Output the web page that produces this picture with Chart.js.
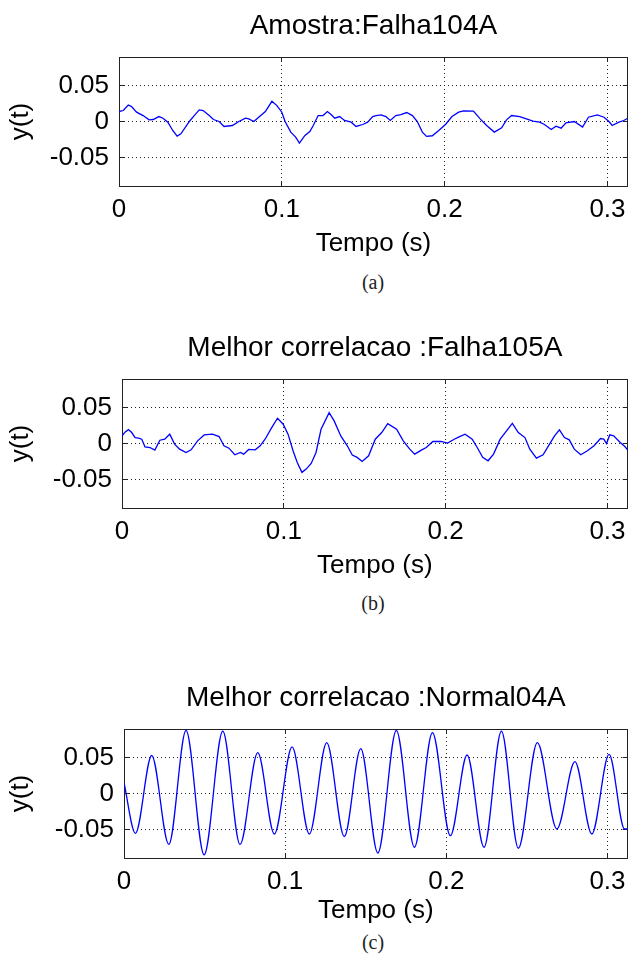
<!DOCTYPE html>
<html>
<head>
<meta charset="utf-8">
<title>Amostra e melhor correlacao</title>
<script src="https://cdn.jsdelivr.net/npm/chart.js@4.4.1/dist/chart.umd.min.js"></script>
<style>
    html, body { margin: 0; padding: 0; background: #fff; }
    body { width: 639px; height: 956px; position: relative; overflow: hidden; }
    .panel { position: absolute; left: 0; width: 639px; height: 259px; }
    .caption {
        position: absolute; left: 273px; width: 200px; text-align: center;
        font-family: "Liberation Serif", "DejaVu Serif", serif;
        font-size: 20px; line-height: 20px; color: #222;
    }
</style>
</head>
<body>
<div class="panel" style="top:0px"><canvas id="chartA"></canvas></div>
<div class="caption" style="top:272px">(a)</div>
<div class="panel" style="top:322px"><canvas id="chartB"></canvas></div>
<div class="caption" style="top:593px">(b)</div>
<div class="panel" style="top:672px"><canvas id="chartC"></canvas></div>
<div class="caption" style="top:932px">(c)</div>

<script>
// --- data (time in s, y(t)) ---
const titles = ['Amostra:Falha104A', 'Melhor correlacao :Falha105A', 'Melhor correlacao :Normal04A'];
const xLabel = 'Tempo (s)';
const yLabel = 'y(t)';
const xTickValues = [0, 0.1, 0.2, 0.3];
const xTickLabels = ['0', '0.1', '0.2', '0.3'];
const yTickValues = [-0.05, 0, 0.05];
const yTickLabels = ['-0.05', '0', '0.05'];
const xMax = 0.3125;
const yMin = -0.09;
const yMax = 0.09;

// (a) Amostra:Falha104A
const timeA = [0, 0.0026, 0.0057, 0.0077, 0.0108, 0.0148, 0.0185, 0.021, 0.0245, 0.027,
    0.030, 0.033, 0.0357, 0.038, 0.0432, 0.0462, 0.0493, 0.0517, 0.0554, 0.058,
    0.0615, 0.0645, 0.0696, 0.0736, 0.0777, 0.0797, 0.0828, 0.0858, 0.0899, 0.0939,
    0.097, 0.1, 0.102, 0.1055, 0.1085, 0.1108, 0.1142, 0.1172, 0.1193, 0.1223,
    0.1253, 0.128, 0.1304, 0.1325, 0.1355, 0.1385, 0.1426, 0.1456, 0.1497, 0.1527,
    0.1558, 0.1579, 0.161, 0.1639, 0.1666, 0.170, 0.1731, 0.1767, 0.1802, 0.1832,
    0.1863, 0.1889, 0.1924, 0.1964, 0.2005, 0.2045, 0.2086, 0.2116, 0.2177, 0.2218,
    0.2258, 0.2305, 0.235, 0.238, 0.2411, 0.2461, 0.2502, 0.2542, 0.2583, 0.2613,
    0.2654, 0.2684, 0.2715, 0.2745, 0.2796, 0.2847, 0.2883, 0.2938, 0.2979, 0.3009,
    0.3029, 0.307, 0.31, 0.3125];
const valuesA = [0.0139, 0.0153, 0.0231, 0.0208, 0.0130, 0.0083, 0.0023, 0.0028, 0.0069, 0.0046,
    -0.0009, -0.0125, -0.0204, -0.0171, 0, 0.0083, 0.0162, 0.0153, 0.0083, 0.0028,
    0, -0.0069, -0.0056, 0, 0.0046, 0.0037, 0, 0.006, 0.0139, 0.0282,
    0.0222, 0.013, 0, -0.0148, -0.0218, -0.0301, -0.0194, -0.0139, -0.0056, 0.0083,
    0.0083, 0.0139, 0.0093, 0.0046, 0.0069, 0.0014, -0.0009, -0.0069, -0.0042, -0.0009,
    0.0069, 0.0083, 0.0093, 0.0069, 0.0014, 0.0083, 0.0097, 0.0125, 0.0083, 0,
    -0.0148, -0.0208, -0.0199, -0.0125, -0.0042, 0.0069, 0.013, 0.0148, 0.0144, 0.0037,
    -0.0056, -0.0148, -0.0088, 0.0023, 0.0083, 0.0069, 0.0037, 0.0005, -0.0009, -0.0042,
    -0.0111, -0.0065, -0.0093, -0.0019, 0, -0.0079, 0.006, 0.0093, 0.006, 0,
    -0.0056, -0.0009, 0.0014, 0.0046];

// (b) Melhor correlacao :Falha105A
const timeB = [0, 0.002, 0.004, 0.006, 0.0081, 0.0102, 0.0122, 0.0142, 0.0173, 0.0203,
    0.0234, 0.0264, 0.0295, 0.0325, 0.0356, 0.0396, 0.0427, 0.0467, 0.0508, 0.0559,
    0.06, 0.063, 0.0661, 0.0697, 0.0732, 0.0752, 0.0783, 0.0823, 0.0854, 0.0884,
    0.0925, 0.0961, 0.0996, 0.1026, 0.1057, 0.1083, 0.1112, 0.1138, 0.1169, 0.1199,
    0.123, 0.128, 0.1311, 0.1352, 0.1392, 0.1423, 0.1453, 0.1484, 0.1524, 0.1565,
    0.1605, 0.1642, 0.1697, 0.1738, 0.1778, 0.1809, 0.185, 0.188, 0.1921, 0.1971,
    0.2012, 0.2053, 0.2083, 0.212, 0.2164, 0.2195, 0.2229, 0.2262, 0.2296, 0.2337,
    0.2368, 0.2412, 0.2449, 0.249, 0.252, 0.2561, 0.2602, 0.2642, 0.2673, 0.2703,
    0.2734, 0.2764, 0.2795, 0.2835, 0.2876, 0.2917, 0.2957, 0.2977, 0.2994, 0.3014,
    0.3038, 0.3079, 0.3109, 0.3125];
const valuesB = [0.0106, 0.0162, 0.0194, 0.0153, 0.0083, 0.0074, 0.006, -0.0046, -0.0056, -0.0093,
    0.0046, 0.006, 0.013, -0.0009, -0.0079, -0.0125, -0.0088, 0.0037, 0.012, 0.013,
    0.0097, -0.0032, -0.0065, -0.0157, -0.0125, -0.0148, -0.0083, -0.0088, -0.0032, 0.006,
    0.0222, 0.0352, 0.0269, 0.013, -0.0102, -0.0264, -0.0403, -0.0357, -0.0278, -0.0125,
    0.0199, 0.0431, 0.0315, 0.0106, -0.0032, -0.0162, -0.0194, -0.025, -0.0171, 0.006,
    0.0153, 0.0278, 0.0199, 0.0037, -0.0079, -0.0148, -0.0093, -0.0056, 0.0028, 0.0028,
    0.0005, 0.006, 0.0093, 0.013, 0.006, -0.0056, -0.0194, -0.0241, -0.0148, 0.006,
    0.0153, 0.0282, 0.0153, 0.0083, -0.0079, -0.0204, -0.0157, -0.0009, 0.0106, 0.019,
    0.0083, 0.0051, -0.0079, -0.0157, -0.0102, -0.0032, 0.0069, 0.006, 0, 0.012,
    0.0106, 0.0014, -0.0046, -0.0093];

// (c) Melhor correlacao :Normal04A (peaks and troughs)
const timeC = [0, 0.0071, 0.0172, 0.0278, 0.0385, 0.0497, 0.0613, 0.072, 0.083, 0.0933,
    0.1043, 0.115, 0.1258, 0.1367, 0.1469, 0.1575, 0.169, 0.1802, 0.1914, 0.2025,
    0.2129, 0.2234, 0.2342, 0.2447, 0.2565, 0.2686, 0.2798, 0.2903, 0.301, 0.3106, 0.3125];
const valuesC = [0.015, -0.0556, 0.053, -0.071, 0.088, -0.0857, 0.087, -0.071, 0.057, -0.0565,
    0.065, -0.0565, 0.071, -0.060, 0.0625, -0.083, 0.088, -0.075, 0.085, -0.0588,
    0.0537, -0.075, 0.087, -0.0764, 0.071, -0.0495, 0.0444, -0.0565, 0.0546, -0.0495, -0.0495];

// --- drawing ---
Chart.defaults.font.family = '"Liberation Sans", Arial, sans-serif';
Chart.defaults.color = '#000';

function labelFor(values, labels, v) {
    const i = values.findIndex(t => Math.abs(t - v) < 1e-9);
    return i >= 0 ? labels[i] : '';
}

function makePanel(id, title, times, values, opts) {
    const ctx = document.getElementById(id).getContext('2d');
    const points = times.map((t, i) => ({ x: t, y: values[i] }));
    const tickFont = { size: 26 };

    return new Chart(ctx, {
        type: 'line',
        data: {
            datasets: [{
                data: points,
                borderColor: '#0000ff',
                borderWidth: 1.3,
                pointRadius: 0,
                fill: false,
                tension: 0,
                cubicInterpolationMode: opts.smooth ? 'monotone' : 'default'
            }]
        },
        options: {
            responsive: true,
            maintainAspectRatio: false,
            animation: false,
            events: [],
            layout: { padding: { left: 0, right: opts.padRight, top: 0, bottom: 0 } },
            plugins: {
                legend: { display: false },
                tooltip: { enabled: false },
                title: {
                    display: true,
                    text: title,
                    fullSize: false,
                    font: { size: 28, weight: 'normal' },
                    color: '#000',
                    padding: { top: 9, bottom: 14.4 }
                }
            },
            scales: {
                x: {
                    type: 'linear',
                    position: 'bottom',
                    min: 0,
                    max: xMax,
                    afterBuildTicks: s => { s.ticks = xTickValues.map(v => ({ value: v })); },
                    afterFit: s => { s.height = 73; },
                    ticks: {
                        font: tickFont, color: '#000', padding: 13, maxRotation: 0, autoSkip: false,
                        callback: v => labelFor(xTickValues, xTickLabels, v)
                    },
                    grid: { color: '#222', lineWidth: 1, drawTicks: true, tickLength: -5, tickBorderDash: [], tickColor: '#222' },
                    border: { display: true, color: '#222', width: 1, dash: [1, 3] },
                    title: { display: true, text: xLabel, font: { size: 26 }, color: '#000', padding: { top: 0, bottom: opts.xTitlePad } }
                },
                x2: {
                    type: 'linear',
                    position: 'top',
                    min: 0,
                    max: xMax,
                    afterBuildTicks: s => { s.ticks = xTickValues.map(v => ({ value: v })); },
                    afterFit: s => { s.height = 0; },
                    ticks: { display: false },
                    grid: { drawOnChartArea: false, drawTicks: true, tickLength: -5, color: '#222' },
                    border: { display: true, color: '#222', width: 1 }
                },
                y: {
                    type: 'linear',
                    position: 'left',
                    min: yMin,
                    max: yMax,
                    afterBuildTicks: s => { s.ticks = yTickValues.map(v => ({ value: v })); },
                    afterFit: s => { s.width = opts.yWidth; },
                    ticks: {
                        font: tickFont, color: '#000', padding: 15,
                        callback: v => labelFor(yTickValues, yTickLabels, v)
                    },
                    grid: { color: '#222', lineWidth: 1, drawTicks: true, tickLength: -5, tickBorderDash: [], tickColor: '#222' },
                    border: { display: true, color: '#222', width: 1, dash: [1, 3] },
                    title: { display: true, text: yLabel, font: { size: 26 }, color: '#000', padding: { top: 5, bottom: 0 } }
                },
                y2: {
                    type: 'linear',
                    position: 'right',
                    min: yMin,
                    max: yMax,
                    afterBuildTicks: s => { s.ticks = yTickValues.map(v => ({ value: v })); },
                    afterFit: s => { s.width = 0; },
                    ticks: { display: false },
                    grid: { drawOnChartArea: false, drawTicks: true, tickLength: -5, color: '#222' },
                    border: { display: true, color: '#222', width: 1 }
                }
            }
        }
    });
}

makePanel('chartA', titles[0], timeA, valuesA, { yWidth: 119, padRight: 6, xTitlePad: 0, smooth: false });
makePanel('chartB', titles[1], timeB, valuesB, { yWidth: 122, padRight: 1, xTitlePad: 0, smooth: false });
makePanel('chartC', titles[2], timeC, valuesC, { yWidth: 124, padRight: 1, xTitlePad: 5, smooth: true });
</script>
</body>
</html>
